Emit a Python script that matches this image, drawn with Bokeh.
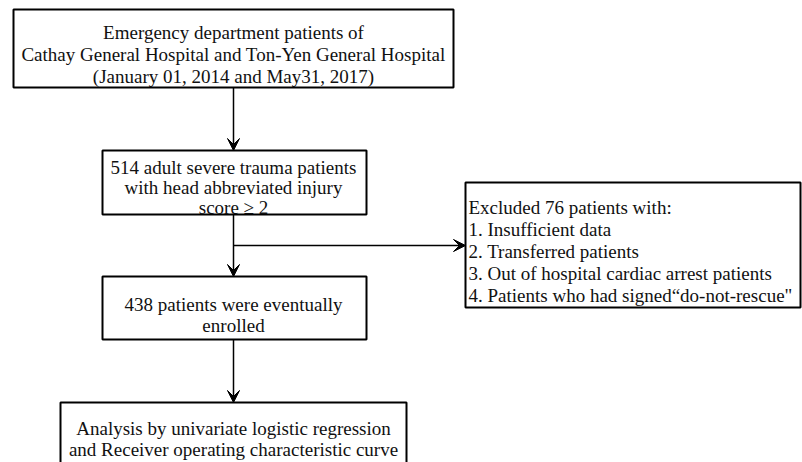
from bokeh.plotting import figure
from bokeh.models import Range1d, Arrow, VeeHead, ColumnDataSource
from bokeh.core.properties import value
from bokeh.embed import file_html
from bokeh.resources import INLINE

# ---- content ----
box1_lines = ["Emergency department patients of",
              "Cathay General Hospital and Ton-Yen General Hospital",
              "(January 01, 2014 and May31, 2017)"]
box2_lines = ["514 adult severe trauma patients",
              "with head abbreviated injury",
              "score \u2265 2"]
box3_lines = ["438 patients were eventually", "enrolled"]
box4_lines = ["Excluded 76 patients with:",
              "1. Insufficient data",
              "2. Transferred patients",
              "3. Out of hospital cardiac arrest patients",
              "4. Patients who had signed\u201cdo-not-rescue\""]
box5_lines = ["Analysis by univariate logistic regression",
              "and Receiver operating characteristic curve"]

# ---- layout (pixel coordinates of the picture) ----
W, H = 802, 462
box_left = [13, 102, 102, 465, 60]
box_right = [453, 366, 366, 800, 406]
box_top = [9, 150, 276, 182, 402]
box_bottom = [87, 214, 339, 307, 475]
center_x = 233
baselines = {
    "b1": [32, 54, 76],
    "b2": [167, 187, 207],
    "b3": [304, 325],
    "b4": [207, 229, 251, 273, 295],
    "b5": [428, 449],
}

FONT = value("Liberation Serif")
FS = "19px"

p = figure(width=W, height=H, output_backend="svg", toolbar_location=None,
           x_range=Range1d(0, W), y_range=Range1d(H, 0),
           min_border=0, outline_line_color=None)
p.axis.visible = False
p.grid.visible = False
p.background_fill_color = "white"
p.border_fill_color = "white"

p.quad(left=box_left, right=box_right, top=box_top, bottom=box_bottom,
       fill_color="white", line_color="black", line_width=2)

def centered(lines, ys):
    src = ColumnDataSource(dict(x=[center_x] * len(lines), y=ys, t=lines))
    p.text(x="x", y="y", text="t", source=src, text_font=FONT, text_font_size=FS,
           text_align="center", text_baseline="alphabetic", text_color="#111111")

centered(box1_lines, baselines["b1"])
centered(box2_lines, baselines["b2"])
centered(box3_lines, baselines["b3"])
centered(box5_lines, baselines["b5"])

src4 = ColumnDataSource(dict(x=[468] * len(box4_lines), y=baselines["b4"], t=box4_lines))
p.text(x="x", y="y", text="t", source=src4, text_font=FONT, text_font_size=FS,
       text_align="left", text_baseline="alphabetic", text_color="#111111")

def arrow(x0, y0, x1, y1):
    p.add_layout(Arrow(end=VeeHead(size=12, fill_color="black", line_color="black", line_width=1),
                       x_start=x0, y_start=y0, x_end=x1, y_end=y1,
                       line_color="black", line_width=1.5))

arrow(center_x, box_bottom[0], center_x, box_top[1])
arrow(center_x, box_bottom[1], center_x, box_top[2])
arrow(center_x, 245, box_left[3], 245)
arrow(center_x, box_bottom[2], center_x, box_top[4])

open("out.html", "w").write(file_html(p, INLINE))
